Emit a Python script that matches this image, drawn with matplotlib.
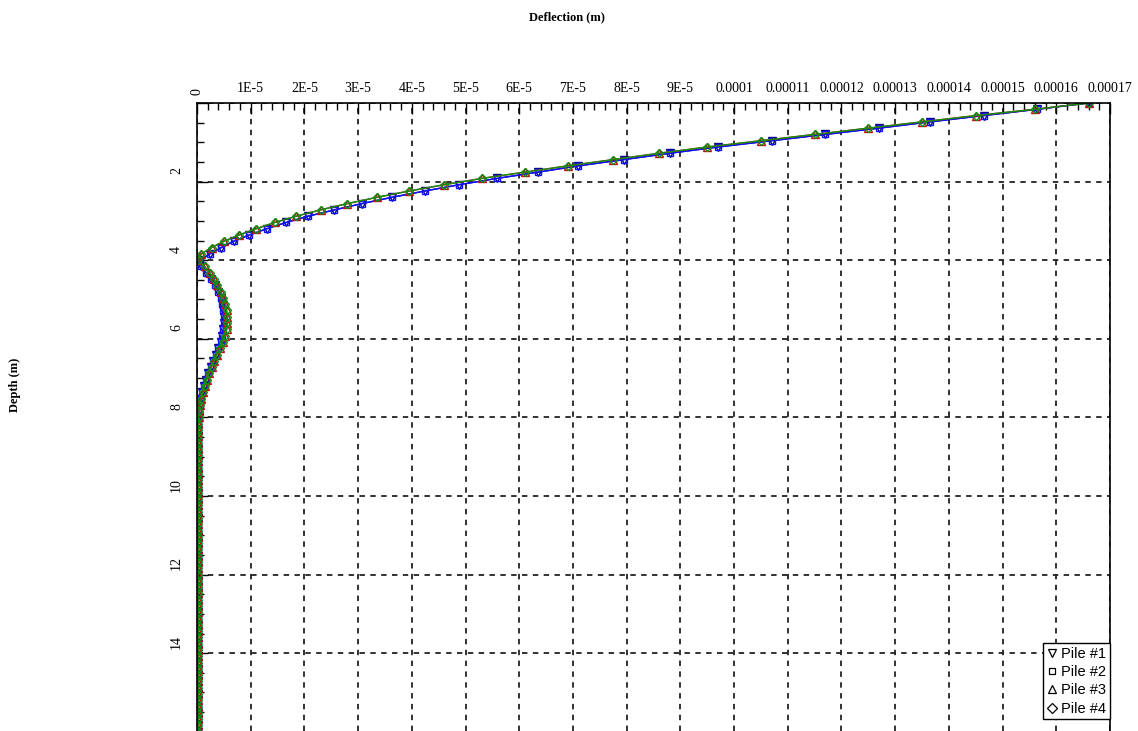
import matplotlib.pyplot as plt
from matplotlib.lines import Line2D
from matplotlib.ticker import MultipleLocator
from matplotlib.transforms import ScaledTranslation
import numpy as np

# Lateral deflection profiles along the piles (values in micrometres)
# nodes every 0.16 m from the pile head down to 16 m
depth = np.linspace(0, 16, 101)

# piles 1 and 2 (upper 8.5 m)
head_12 = [166, 156.5, 146.5, 136.5, 127, 117, 107, 97, 88, 79.5,
           71, 63.5, 55.8, 48.8, 42.4, 36.3, 30.7, 25.6, 20.7, 16.6,
           13.0, 9.7, 6.8, 4.5, 2.4, 0.6, 0.8, 1.7, 2.6, 3.4,
           4.0, 4.4, 4.7, 4.9, 5.0, 5.0, 4.9, 4.7, 4.4, 4.0,
           3.5, 3.0, 2.6, 2.1, 1.7, 1.3, 1.0, 0.8, 0.6, 0.4,
           0.3, 0.2, 0.2, 0.2]
# piles 3 and 4 (upper 8.5 m)
head_34 = [166, 156, 145, 135, 125, 115, 105, 95, 86, 77.5,
           69, 61, 53, 46, 39.5, 33.5, 28, 23, 18.5, 14.5,
           11, 7.8, 5, 2.7, 0.8, 0.2, 1.4, 2.4, 3.1, 3.8,
           4.4, 4.9, 5.3, 5.5, 5.6, 5.6, 5.5, 5.2, 4.8, 4.3,
           3.7, 3.2, 2.7, 2.2, 1.8, 1.4, 1.1, 0.8, 0.6, 0.4,
           0.3, 0.2, 0.2, 0.2]
# lower part of the piles, practically at rest
tail = [0.2, 0.2, 0.2, 0.2, 0.2, 0.2, 0.2, 0.2, 0.2, 0.2,
        0.2, 0.2, 0.2, 0.2, 0.2, 0.2, 0.2, 0.2, 0.2, 0.2,
        0.2, 0.2, 0.2, 0.2, 0.2, 0.2, 0.2, 0.2, 0.2, 0.2,
        0.2, 0.2, 0.2, 0.2, 0.2, 0.2, 0.2, 0.2, 0.2, 0.2,
        0.2, 0.2, 0.2, 0.2, 0.2, 0.2, 0.2]

pile_1 = head_12 + tail
pile_2 = head_12 + tail
pile_3 = head_34 + tail
pile_4 = head_34 + tail

labels = ['Pile #1', 'Pile #2', 'Pile #3', 'Pile #4']
x_tick_labels = ['0', '1E-5', '2E-5', '3E-5', '4E-5', '5E-5', '6E-5', '7E-5', '8E-5', '9E-5',
                 '0.0001', '0.00011', '0.00012', '0.00013', '0.00014', '0.00015', '0.00016', '0.00017']
y_tick_labels = ['', '2', '4', '6', '8', '10', '12', '14']

series = [pile_1, pile_2, pile_3, pile_4]
colors = ['#000080', '#1010ff', '#c01010', '#109010']
markers = ['v', 's', '^', 'D']
msizes = [5.5, 4.5, 5.5, 4.5]

W, H = 1138, 731
fig = plt.figure(figsize=(W / 100, H / 100), dpi=100)
ax = fig.add_axes([197 / W, 0, (1110 - 197) / W, 1 - 103 / H])

for vals, c, m, s in zip(series, colors, markers, msizes):
    ax.plot(np.array(vals) * 1e-6, depth, color=c, lw=1.0, marker=m, ms=s,
            mfc='none', mec=c, mew=1.0)

ax.set_xlim(0, 0.0001698)
ax.set_ylim(15.98, 0)

ax.set_xticks(np.arange(len(x_tick_labels)) * 1e-5)
ax.set_xticklabels(x_tick_labels, fontfamily='Liberation Serif', fontsize=10)
ax.xaxis.set_minor_locator(MultipleLocator(2e-6))
ax.set_yticks(np.arange(len(y_tick_labels)) * 2)
ax.set_yticklabels(y_tick_labels, fontfamily='Liberation Serif', fontsize=10,
                   rotation=90, va='center')
ax.yaxis.set_minor_locator(MultipleLocator(0.5))

ax.tick_params(axis='x', which='both', top=True, bottom=False, labeltop=True,
               labelbottom=False, direction='in', color='black', width=1, pad=6)
ax.tick_params(axis='y', which='both', left=True, right=False, direction='in',
               color='black', width=1, pad=10)
ax.tick_params(which='major', length=8)
ax.tick_params(which='minor', length=5)

# the zero label sits turned on its side, depth labels ride just above their lines
ax.xaxis.get_major_ticks()[0].label2.set_rotation(90)
lift = ScaledTranslation(0, 8 / 72, fig.dpi_scale_trans)
for lab in ax.get_yticklabels():
    lab.set_transform(lab.get_transform() + lift)

ax.grid(True, which='major', color='#222222', ls=(0, (3, 3)), lw=1.3)
ax.spines['bottom'].set_visible(False)
for side in ['top', 'left', 'right']:
    ax.spines[side].set_linewidth(1.2)

fig.text(567 / W, 1 - 17 / H, 'Deflection (m)', ha='center', va='center',
         fontfamily='Liberation Serif', fontweight='bold', fontsize=9)
fig.text(15 / W, 1 - 385 / H, 'Depth (m)', ha='center', va='center', rotation=90,
         fontfamily='Liberation Serif', fontweight='bold', fontsize=9)

handles = [Line2D([], [], ls='none', marker=m, ms=s + 0.5, mfc='none', mec='black', mew=0.9)
           for m, s in zip(markers, msizes)]
leg = ax.legend(handles, labels, loc='upper right', bbox_to_anchor=(1110 / W, 1 - 643 / H),
                bbox_transform=fig.transFigure, fancybox=False, edgecolor='black',
                framealpha=1, prop={'family': 'Liberation Sans', 'size': 10.5},
                handlelength=0.7, handletextpad=0.3, borderpad=0.25,
                labelspacing=0.3, borderaxespad=0)
leg.get_frame().set_linewidth(1.0)

plt.savefig('out.png', dpi=100)
